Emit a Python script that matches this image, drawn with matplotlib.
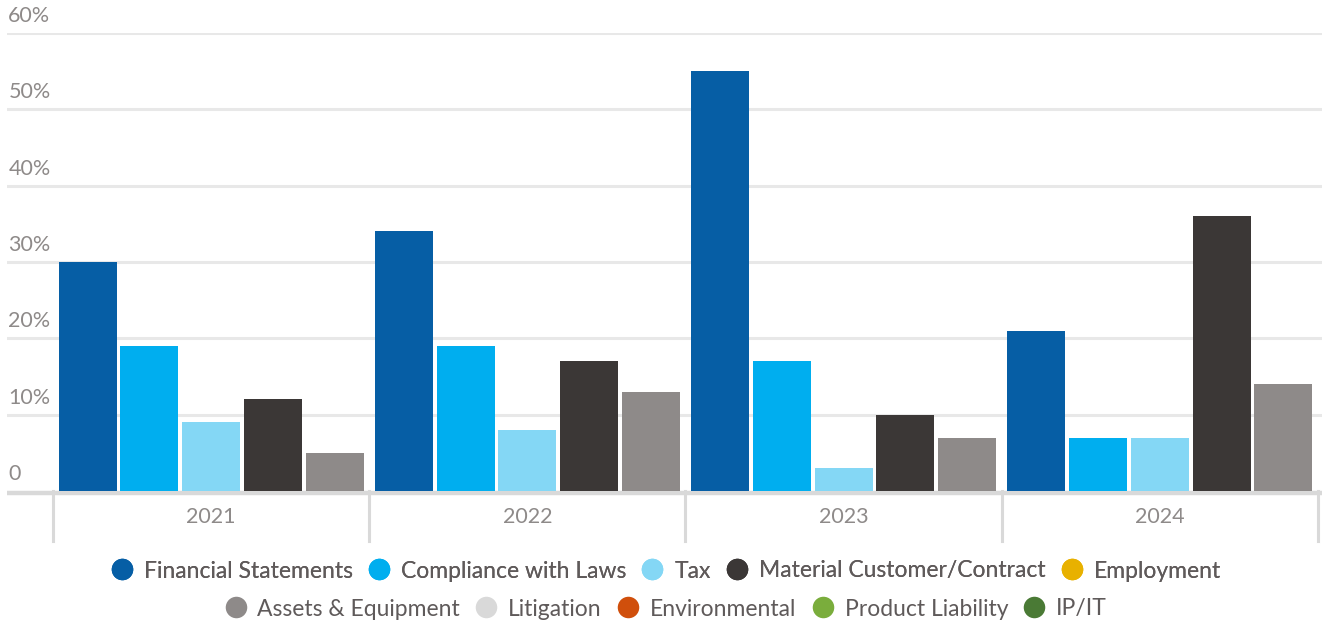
import matplotlib.pyplot as plt
import matplotlib.transforms as mtransforms
from matplotlib.lines import Line2D

plt.rcParams['font.family'] = ['Lato', 'DejaVu Sans']

years = ['2021', '2022', '2023', '2024']
categories = ['Financial Statements', 'Compliance with Laws', 'Tax',
              'Material Customer/Contract', 'Employment', 'Assets & Equipment',
              'Litigation', 'Environmental', 'Product Liability', 'IP/IT']
colors = ['#065ea5', '#00aeef', '#84d7f5', '#3b3736', '#e8b100',
          '#8e8a89', '#d9d9d9', '#d04f0c', '#7aad3c', '#4a7a35']

# share of claims (%) per category, one value per year
financial = [30, 34, 55, 21]
compliance = [19, 19, 17, 7]
tax = [9, 8, 3, 7]
customer = [12, 17, 10, 36]
employment = [0, 0, 0, 0]
assets = [5, 13, 7, 14]
litigation = [0, 0, 0, 0]
environmental = [0, 0, 0, 0]
product = [0, 0, 0, 0]
ipit = [0, 0, 0, 0]
series = [financial, compliance, tax, customer, employment,
          assets, litigation, environmental, product, ipit]

yticks = [0, 10, 20, 30, 40, 50, 60]
ytick_labels = ['0', '10%', '20%', '30%', '40%', '50%', '60%']

fig = plt.figure(figsize=(13.27, 6.25), dpi=100)
ax = fig.add_axes([7 / 1327, 134 / 625, 1315 / 1327, 458 / 625])

# only categories with data get a slot in each year group
drawn = [i for i, s in enumerate(series) if any(v > 0 for v in s)]
pitch = 0.1954
width = 0.1834
pad = (1 - pitch * len(drawn)) / 2
for k, i in enumerate(drawn):
    xs = [g + pad + pitch * k + pitch / 2 for g in range(len(years))]
    ax.bar(xs, series[i], width=width, color=colors[i], zorder=3, linewidth=0)

# gridlines and labels sitting above them
ytrans = ax.get_yaxis_transform()
for v, lab in zip(yticks, ytick_labels):
    if v == 0:
        # baseline sits just under the bars
        base = mtransforms.offset_copy(ytrans, fig=fig, y=-2, units='dots')
        ax.plot([0, 1], [0, 0], transform=base, color='#d9d9d9', lw=3.2,
                clip_on=False, zorder=2, solid_capstyle='butt')
    else:
        ax.axhline(v, color='#e8e8e8', lw=2.2, zorder=1)
    ax.annotate(lab, xy=(0.001, v), xycoords=ytrans,
                xytext=(0, 5), textcoords='offset points',
                ha='left', va='bottom', fontsize=15.5, color='#8e8a89')

# year separators below the axis
xtrans = ax.get_xaxis_transform()
for g in range(len(years) + 1):
    ax.plot([g, g], [0, -0.109], transform=xtrans, color='#d9d9d9',
            lw=2.2, clip_on=False, zorder=2)
for g, yr in enumerate(years):
    ax.annotate(yr, xy=(g + 0.5, 0), xycoords=xtrans, xytext=(0, -19),
                textcoords='offset points', ha='center', va='center',
                fontsize=15.5, color='#8e8a89')

ax.set_xlim(-46 / 316.3, 4 + 4 / 316.3)
ax.set_ylim(0, 60)
ax.set_xticks([])
ax.set_yticks([])
for sp in ax.spines.values():
    sp.set_visible(False)

handles = [Line2D([], [], ls='none', marker='o', markersize=15.5,
                  markerfacecolor=c, markeredgewidth=0) for c in colors]
leg_kw = dict(loc='center', ncol=5, frameon=False, fontsize=16.5,
              handlelength=0.9, handletextpad=0.5, columnspacing=0.7,
              labelcolor='#5f5a5a')
leg1 = fig.legend(handles[:5], categories[:5],
                  bbox_to_anchor=(0.502, 1 - 571 / 625), **leg_kw)
fig.add_artist(leg1)
fig.legend(handles[5:], categories[5:],
           bbox_to_anchor=(0.502, 1 - 609 / 625), **leg_kw)

fig.savefig('out.png', dpi=100)
